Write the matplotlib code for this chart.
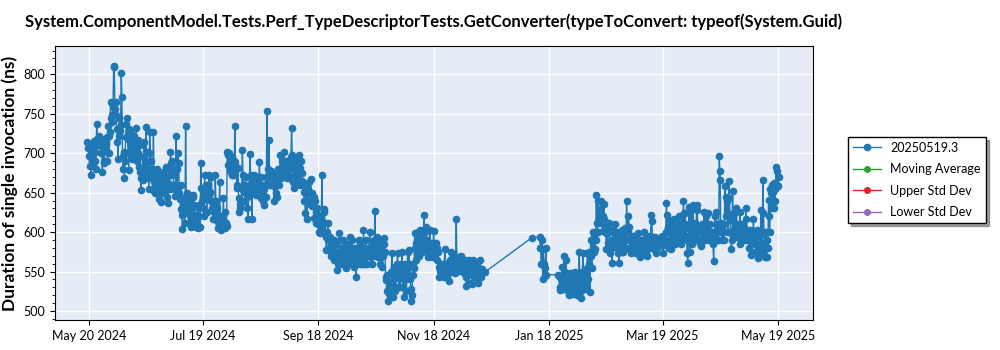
import numpy as np
import pandas as pd
import matplotlib
matplotlib.use('Agg')
import matplotlib.pyplot as plt
import matplotlib.dates as mdates
from matplotlib.ticker import MultipleLocator

plt.rcParams['font.family'] = ['Lato', 'DejaVu Sans']

title = 'System.ComponentModel.Tests.Perf_TypeDescriptorTests.GetConverter(typeToConvert: typeof(System.Guid)'
ylabel = 'Duration of single invocation (ns)'
series_names = ['20250519.3', 'Moving Average', 'Upper Std Dev', 'Lower Std Dev']
series_colors = ['#1f77b4', '#2ca02c', '#d62728', '#9467bd']
tick_dates = ['2024-05-20', '2024-07-19', '2024-09-18', '2024-11-18',
              '2025-01-18', '2025-03-19', '2025-05-19']

start_day = '2024-05-19'

# one list of runs per day (ns), empty list = no run that day
daily_ns = [
    [714, 706], [697, 684, 710], [672, 700, 690], [704, 684, 716], [702, 690, 680],
    [737, 718, 710], [710, 722, 716], [712, 700, 718], [676, 701, 690], [688, 708, 712],
    [711, 720, 690], [735, 722, 700], [727, 765, 745], [748, 739, 760], [811, 809, 756],
    [765, 748, 731], [714, 693, 722], [745, 728, 736], [802, 771, 697], [680, 701, 669],
    [690, 720, 737], [744, 718, 700], [679, 731, 727], [714, 705, 693], [712, 700, 722],
    [714, 693, 732], [705, 690, 717], [700, 683, 710], [676, 653, 668], [680, 666, 695],
    [714, 688, 672], [733, 690, 702], [680, 668, 655], [727, 700, 690], [680, 672, 653],
    [727, 664, 650], [672, 663, 680], [655, 668, 650], [642, 650, 671], [638, 660, 655],
    [676, 663, 650], [650, 671, 683], [660, 645, 637], [680, 661, 655], [701, 688, 672],
    [690, 680, 660], [655, 646, 660], [722, 680, 655], [700, 688, 650], [642, 629, 660],
    [621, 604, 630], [638, 624, 612], [735, 646, 625], [650, 630, 612], [640, 620, 607],
    [630, 612, 645], [647, 634, 622], [622, 607, 615], [612, 605, 630], [634, 620, 607],
    [687, 656, 639], [645, 630, 620], [672, 651, 660], [643, 626, 655], [660, 672, 650],
    [651, 640, 670], [630, 617, 640], [626, 617, 672], [640, 630, 620], [613, 605, 620],
    [664, 610, 602], [620, 605, 615], [643, 610, 605], [625, 612, 608], [702, 698, 685],
    [700, 677, 690], [685, 672, 695], [672, 690, 675], [734, 689, 681], [660, 656, 681],
    [643, 626, 635], [630, 640, 655], [704, 672, 651], [660, 640, 670], [651, 630, 645],
    [617, 660, 650], [699, 672, 660], [617, 664, 650], [660, 672, 655], [664, 647, 660],
    [650, 670, 655], [689, 660, 643], [670, 660, 650], [639, 634, 655], [660, 645, 670],
    [753, 680, 665], [717, 677, 660], [677, 668, 660], [665, 660, 639], [672, 660, 650],
    [660, 645, 668], [680, 660, 672], [698, 681, 668], [690, 673, 680], [702, 690, 675],
    [681, 668, 690], [690, 675, 668], [683, 670, 695], [732, 698, 681], [664, 656, 690],
    [694, 681, 670], [685, 675, 664], [698, 681, 660], [690, 675, 665], [660, 651, 639],
    [639, 624, 650], [617, 640, 655], [664, 650, 635], [667, 650, 633], [650, 633, 645],
    [618, 640, 625], [612, 630, 620], [610, 600, 620], [599, 612, 605], [672, 612, 599],
    [629, 625, 612], [594, 577, 600], [590, 612, 580], [577, 594, 585], [570, 590, 580],
    [577, 565, 590], [569, 585, 575], [552, 569, 560], [599, 590, 573], [570, 560, 580],
    [590, 573, 560], [580, 565, 555], [573, 585, 566], [560, 575, 568], [594, 577, 570],
    [590, 570, 565], [556, 575, 580], [543, 560, 570], [569, 580, 590], [585, 575, 560],
    [570, 560, 580], [603, 569, 560], [575, 590, 570], [560, 573, 580], [580, 600, 575],
    [569, 585, 560], [573, 590, 580], [627, 580, 570], [594, 586, 569], [580, 570, 560],
    [569, 590, 575], [556, 570, 585], [592, 575, 543], [539, 525, 545], [513, 522, 530],
    [535, 520, 550], [573, 530, 518], [556, 540, 525], [530, 545, 560], [573, 550, 530],
    [543, 530, 560], [552, 575, 540], [530, 518, 545], [560, 540, 525], [548, 575, 555],
    [577, 560, 540], [528, 513, 520], [560, 545, 555], [599, 580, 565], [586, 575, 600],
    [590, 570, 580], [603, 585, 575], [601, 590, 580], [622, 600, 586], [607, 590, 575],
    [586, 569, 575], [603, 580, 570], [569, 586, 575], [601, 586, 575], [569, 586, 580],
    [564, 575, 556], [543, 556, 551], [560, 545, 550], [551, 543, 560], [579, 560, 548],
    [560, 543, 555], [538, 550, 565], [575, 560, 550], [565, 555, 570], [560, 548, 566],
    [616, 566, 556], [569, 566, 551], [564, 555, 570], [566, 551, 560], [560, 548, 564],
    [543, 532, 556], [556, 545, 535], [564, 551, 560], [551, 534, 545], [564, 555, 548],
    [543, 560, 552], [558, 545, 535], [555, 565, 545], [543, 553], [], [549],
    [], [], [], [], [], [], [], [], [], [], [], [], [], [], [], [], [], [], [], [], [], [], [], [],
    [593], [], [], [], [594, 580], [560, 590, 541], [578, 560, 544], [555, 580, 546],
    [], [], [], [], [], [], [546, 544, 530], [527, 540, 535], [556, 535, 528], [570, 550, 535],
    [565, 540, 527], [531, 520, 540], [535, 548, 525], [548, 530, 522], [540, 527, 535],
    [550, 532, 520], [545, 530, 538], [575, 540, 525], [517, 530, 550], [573, 548, 535],
    [550, 535, 528], [555, 573, 540], [575, 560, 524], [590, 570, 555], [600, 590, 575],
    [595, 578, 590], [647, 612, 600], [639, 624, 612], [629, 617, 640], [612, 601, 620],
    [635, 616, 609], [599, 578, 605], [586, 600, 612], [603, 573, 590], [580, 561, 600],
    [603, 590, 581], [610, 595, 585], [600, 573, 590], [561, 580, 595], [585, 603, 575],
    [590, 575, 600], [605, 590, 580], [640, 590, 600], [620, 607, 590], [590, 573, 580],
    [585, 595, 575], [595, 580, 590], [573, 590, 585], [599, 586, 590], [569, 585, 580],
    [590, 580, 575], [586, 600, 580], [575, 590, 570], [580, 595, 586], [590, 580, 595],
    [621, 614, 590], [590, 578, 585], [594, 573, 586], [580, 590, 585], [586, 592],
    [590, 584, 595], [594, 573, 586], [590, 584, 600], [637, 622, 605], [607, 590, 580],
    [615, 595, 578], [600, 585, 610], [616, 598, 585], [611, 600, 590], [603, 590, 620],
    [610, 595, 585], [620, 600, 590], [639, 624, 610], [624, 605, 595], [573, 561, 590],
    [632, 610, 575], [628, 600, 585], [634, 607, 590], [611, 594, 600], [634, 628, 605],
    [605, 590, 586], [586, 582, 600], [610, 595, 590], [626, 600, 590], [620, 595, 605],
    [624, 599, 590], [610, 590, 600], [590, 600, 585], [563, 595, 620], [626, 600, 590],
    [610, 590, 600], [696, 677, 666, 600], [611, 590, 605], [600, 590, 610], [658, 645, 620],
    [640, 624, 600], [665, 643, 615], [599, 578, 590], [652, 620, 600], [624, 607, 594],
    [630, 610, 600], [605, 595, 585], [625, 600, 590], [610, 595, 600], [607, 590, 596],
    [630, 616, 600], [600, 590, 580], [603, 590, 571], [587, 575, 595], [616, 600, 585],
    [590, 575, 600], [603, 580, 567], [585, 573, 595], [628, 600, 580], [666, 624, 599],
    [569, 586, 600], [569, 590, 580], [641, 620, 600], [654, 649, 630], [660, 651, 630],
    [662, 640, 655], [683, 677, 660], [658, 670],
]

# flatten: runs spread over their day
t0 = pd.Timestamp(start_day)
times, values = [], []
for i, runs in enumerate(daily_ns):
    for k, v in enumerate(runs):
        times.append(t0 + pd.Timedelta(days=i + k / len(runs)))
        values.append(v)

fig = plt.figure(figsize=(10, 3.5), dpi=100)
ax = fig.add_axes([0.055, 0.0857, 0.758, 0.783])
ax.set_facecolor('#E5ECF6')

ax.plot(times, values, color=series_colors[0], lw=1, marker='o', ms=4.5,
        label=series_names[0], zorder=3)
for name, c in zip(series_names[1:], series_colors[1:]):
    ax.plot([], [], color=c, lw=1, marker='o', ms=4, label=name)

ax.set_xlim(pd.Timestamp('2024-05-02'), pd.Timestamp('2025-06-06 12:00'))
ax.set_ylim(488.6, 835.8)
ax.set_xticks([pd.Timestamp(d) for d in tick_dates])
ax.xaxis.set_major_formatter(mdates.DateFormatter('%b %d %Y'))
ax.yaxis.set_major_locator(MultipleLocator(50))
ax.yaxis.set_minor_locator(MultipleLocator(10))
ax.grid(True, color='white', lw=1)
ax.set_axisbelow(True)
ax.tick_params(labelsize=9)
ax.tick_params(axis='y', which='minor', length=2)

ax.set_title(title, fontsize=12, fontweight='bold', pad=14)
ax.set_ylabel(ylabel, fontsize=12.5, fontweight='bold')

leg = ax.legend(loc='upper left', bbox_to_anchor=(0.848, 0.609),
                bbox_transform=fig.transFigure, borderaxespad=0,
                fontsize=9, frameon=True, fancybox=False, shadow=True,
                handlelength=2.2, labelspacing=0.75)
leg.get_frame().set_edgecolor('black')

fig.savefig('out.png', dpi=100)
